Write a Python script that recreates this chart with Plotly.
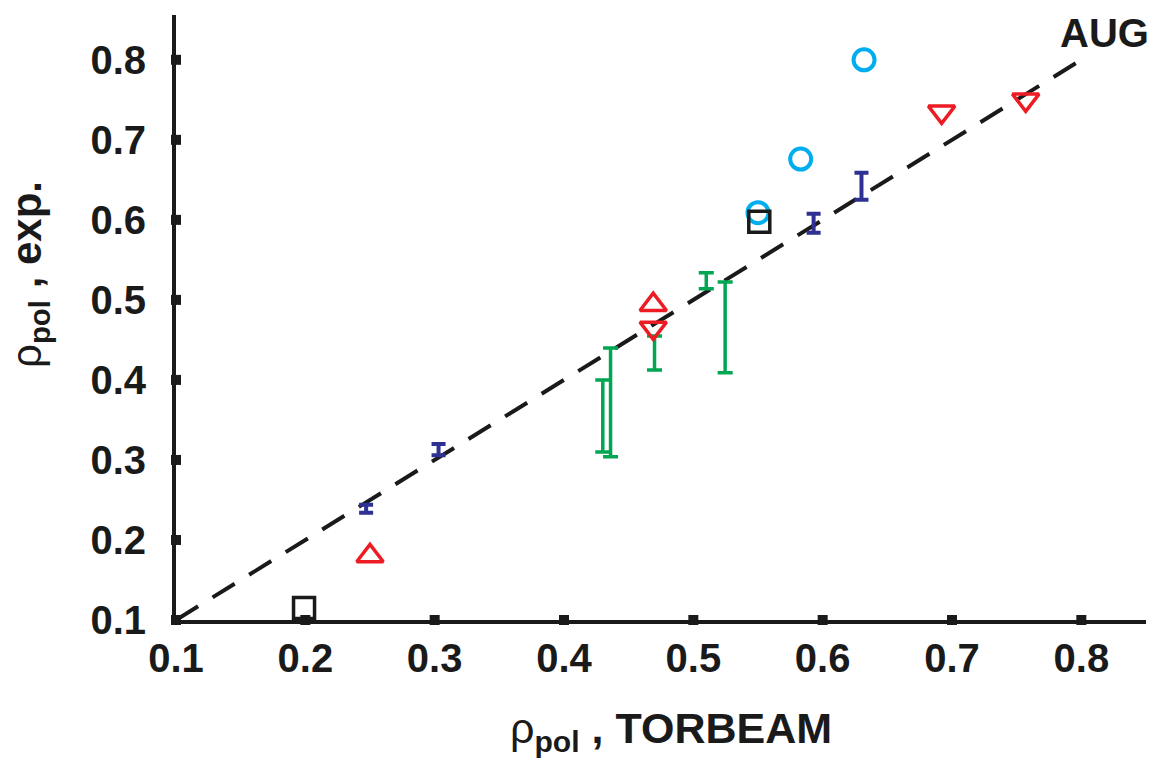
import plotly.graph_objects as go

# ---- data ----
tick_vals = [0.1, 0.2, 0.3, 0.4, 0.5, 0.6, 0.7, 0.8]
tick_text = ["0.1", "0.2", "0.3", "0.4", "0.5", "0.6", "0.7", "0.8"]

diag_x = [0.1, 0.8]
diag_y = [0.1, 0.8]

blue_x = [0.247, 0.303, 0.593, 0.630]
blue_lo = [0.234, 0.306, 0.584, 0.625]
blue_hi = [0.244, 0.320, 0.6075, 0.659]

green_x = [0.430, 0.436, 0.470, 0.510, 0.5246]
green_lo = [0.310, 0.304, 0.4125, 0.514, 0.409]
green_hi = [0.400, 0.440, 0.455, 0.534, 0.5225]

tri_up_x = [0.250, 0.469]
tri_up_y = [0.180, 0.494]

tri_dn_x = [0.469, 0.692, 0.757]
tri_dn_y = [0.465, 0.735, 0.750]

circ_x = [0.550, 0.583, 0.632]
circ_y = [0.609, 0.676, 0.800]

sq_x = [0.199, 0.551]
sq_y = [0.115, 0.5975]

FONT = "Liberation Sans, Arial, sans-serif"
BLUE = "#2E3192"
GREEN = "#00A651"
RED = "#ED1C24"
CYAN = "#00AEEF"
INK = "#1a1a1a"

fig = go.Figure()

# diagonal dashed line
fig.add_trace(go.Scatter(x=diag_x, y=diag_y, mode="lines",
                         line=dict(color=INK, width=4, dash="26px,17px"),
                         hoverinfo="skip"))


def err_trace(xs, lo, hi, color, cap, thick):
    c = [(a + b) / 2 for a, b in zip(lo, hi)]
    up = [h - m for h, m in zip(hi, c)]
    dn = [m - l for m, l in zip(c, lo)]
    return go.Scatter(x=xs, y=c, mode="markers",
                      marker=dict(size=1, color=color),
                      error_y=dict(type="data", symmetric=False, array=up, arrayminus=dn,
                                   color=color, thickness=thick, width=cap))


fig.add_trace(err_trace(green_x, green_lo, green_hi, GREEN, 7.5, 3.5))
fig.add_trace(err_trace(blue_x, blue_lo, blue_hi, BLUE, 7, 4))

fig.add_trace(go.Scatter(x=tri_up_x, y=tri_up_y, mode="markers",
                         marker=dict(symbol="triangle-up-open", size=23, color=RED,
                                     line=dict(width=3.5, color=RED))))
fig.add_trace(go.Scatter(x=tri_dn_x, y=tri_dn_y, mode="markers",
                         marker=dict(symbol="triangle-down-open", size=23, color=RED,
                                     line=dict(width=3.5, color=RED))))
fig.add_trace(go.Scatter(x=circ_x, y=circ_y, mode="markers",
                         marker=dict(symbol="circle-open", size=21, color=CYAN,
                                     line=dict(width=4, color=CYAN))))
fig.add_trace(go.Scatter(x=sq_x, y=sq_y, mode="markers",
                         marker=dict(symbol="square-open", size=21, color=INK,
                                     line=dict(width=3.5, color=INK))))

# tick squares on axes
fig.add_trace(go.Scatter(x=tick_vals, y=[tick_vals[0]] * len(tick_vals), mode="markers",
                         marker=dict(symbol="square", size=10, color=INK),
                         cliponaxis=False, hoverinfo="skip"))
fig.add_trace(go.Scatter(x=[tick_vals[0]] * len(tick_vals), y=tick_vals, mode="markers",
                         marker=dict(symbol="square", size=10, color=INK),
                         cliponaxis=False, hoverinfo="skip"))

axis_common = dict(showgrid=False, zeroline=False, showline=True, linecolor=INK,
                   linewidth=4, ticks="", tickvals=tick_vals, ticktext=tick_text,
                   tickfont=dict(family=FONT, size=40, color=INK, weight="bold"))

fig.update_layout(
    width=1153, height=763,
    margin=dict(l=176, r=7, t=15, b=143),
    paper_bgcolor="white", plot_bgcolor="white",
    showlegend=False,
    xaxis=dict(range=[0.1, 0.85], ticklabelstandoff=0, **axis_common),
    yaxis=dict(range=[0.1, 0.856], ticklabelstandoff=18, **axis_common),
    annotations=[
        dict(text="<b>AUG</b>", xref="paper", yref="paper", x=1.0, y=1.0,
             xanchor="right", yanchor="middle", yshift=-18, xshift=5, showarrow=False,
             font=dict(family=FONT, size=40, color=INK)),
        dict(text="ρ<sub><b>pol</b></sub><b> , TORBEAM</b>", xref="paper", yref="paper",
             x=0.5, y=0, xanchor="center", yanchor="top", xshift=10, yshift=-82,
             showarrow=False, font=dict(family=FONT, size=43, color=INK)),
        dict(text="ρ<sub><b>pol</b></sub><b> , exp.</b>", xref="paper", yref="paper",
             x=0, y=0.5, xanchor="right", yanchor="middle", xshift=-118, yshift=43,
             textangle=-90, showarrow=False,
             font=dict(family=FONT, size=42, color=INK)),
    ],
)

fig.write_html("out.html")
